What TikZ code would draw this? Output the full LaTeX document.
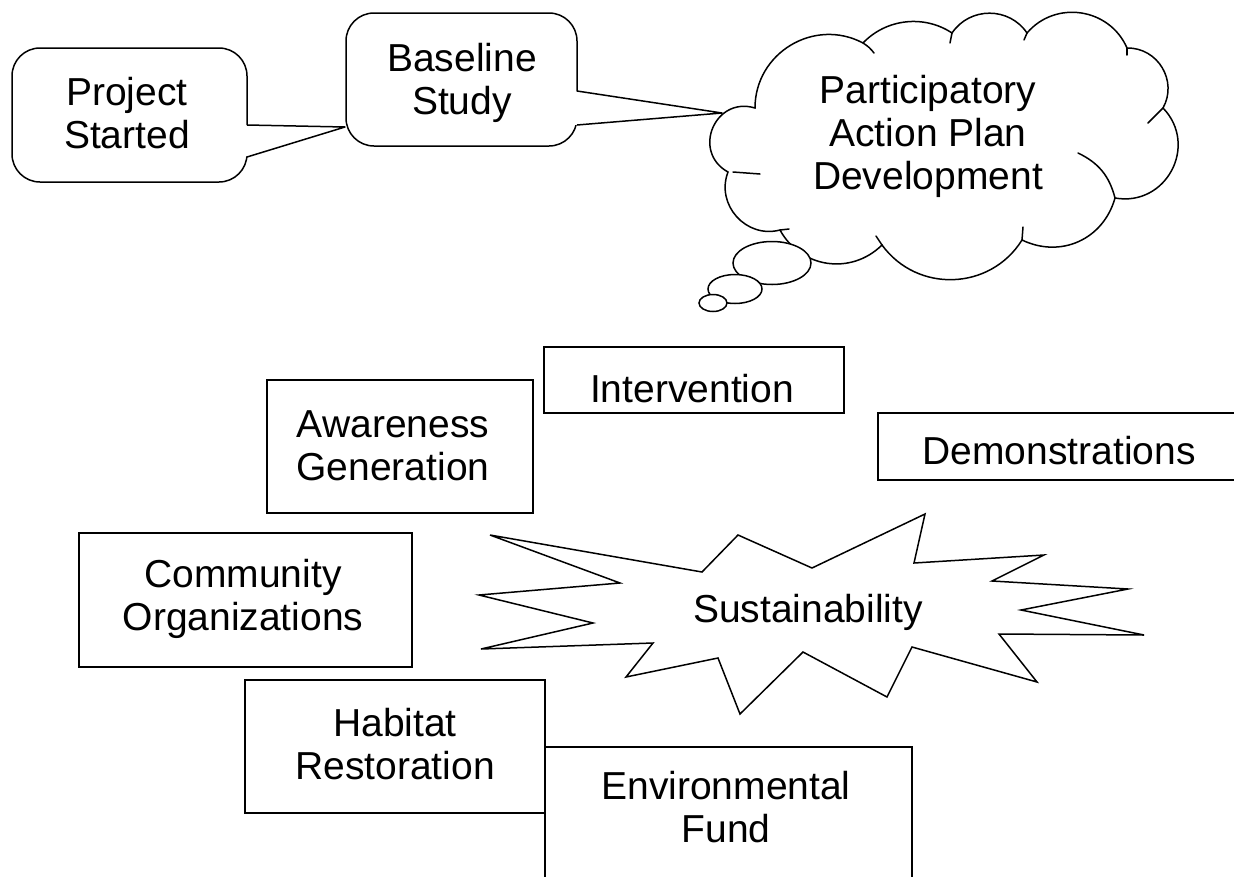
\documentclass[tikz,border=0pt]{standalone}
\usepackage{fontspec}
\setmainfont{Liberation Sans}
\begin{document}
\begin{tikzpicture}[x=1pt,y=1pt,line width=1.5pt,
  lbl/.style={font=\fontsize{39}{43}\selectfont, align=center, anchor=north, inner sep=0pt},
  box/.style={draw, fill=white, rectangle, inner sep=0pt},
  callout/.style={draw, fill=white, rectangle, rounded corners=28pt, inner sep=0pt},
  puff/.style={draw, fill=white},
  tail/.style={draw, line join=round},
  stub/.style={draw, line cap=round}]
\useasboundingbox (0,0) rectangle (1234,-876);

% ---------- Project Started callout
\node[callout, minimum width=235pt, minimum height=134pt] (ps) at (129.5,-115) {};
\coordinate (psTop) at (247,-125);
\coordinate (psBot) at (247,-157);
\coordinate (psTip) at (345,-127);
\fill[white] ([xshift=-3pt]psTop) -- (psTip) -- ([xshift=-3pt]psBot) -- cycle;
\draw[tail] (psTop) -- (psTip) -- (psBot);
\node[lbl] (pst) at (127,-76) {Project\\Started};

% ---------- Baseline Study callout
\node[callout, minimum width=231pt, minimum height=133pt] (bs) at (461.5,-79.5) {};
\coordinate (bsTop) at (577,-91);
\coordinate (bsBot) at (577,-125);
\coordinate (bsTip) at (722,-113);
\fill[white] ([xshift=-3pt]bsTop) -- (bsTip) -- ([xshift=-3pt]bsBot) -- cycle;
\draw[tail] (bsTop) -- (bsTip) -- (bsBot);
\node[lbl] (bst) at (462,-42) {Baseline\\Study};

% ---------- Thought cloud
\draw[puff] (755,-108)
  to[bend left=59, looseness=1.12] (863,-43)
  to[bend left=40, looseness=0.96] (952,-33)
  to[bend left=56, looseness=1.09] (1027,-33)
  to[bend left=58, looseness=1.11] (1127,-48)
  to[bend left=60, looseness=1.13] (1163,-108)
  to[bend left=72, looseness=1.30] (1115,-198)
  to[bend left=50, looseness=1.08] (1022,-240)
  to[bend left=56, looseness=1.09] (882,-245)
  to[bend left=53, looseness=1.08] (780,-230)
  to[bend left=63, looseness=1.15] (728,-172)
  to[bend left=84, looseness=1.54] (755,-108) -- cycle;
% inner strokes of the cloud
\draw[stub] (863,-43) to[bend left=10] (874,-53);
\draw[stub] (952,-33) -- (950,-43);
\draw[stub] (1027,-33) -- (1024,-40);
\draw[stub] (1127,-48) -- (1127,-55);
\draw[stub] (1163,-108) -- (1148,-123);
\draw[stub] (1115,-198) to[bend right=25] (1078,-153);
\draw[stub] (1022,-240) -- (1023,-227);
\draw[stub] (882,-245) -- (876,-236);
\draw[stub] (780,-230) -- (789,-229);
\draw[stub] (733,-172) -- (760,-174);
% thought bubbles
\draw[puff] (772,-263) ellipse [x radius=39, y radius=21.5];
\draw[puff] (735,-289) ellipse [x radius=27, y radius=14.5];
\draw[puff] (713,-303) ellipse [x radius=14, y radius=8.5];
\node[lbl] (pap) at (928,-74) {Participatory\\Action Plan\\Development};

% ---------- Starburst
\draw[puff] (490,-535) -- (702,-572) -- (738,-535) -- (812,-568) -- (925,-514)
  -- (914,-563) -- (1044,-555) -- (992,-581) -- (1128,-589) -- (1021,-610)
  -- (1144,-635) -- (999,-634) -- (1037,-682) -- (912,-647) -- (887,-697)
  -- (803,-652) -- (740,-714) -- (718,-658) -- (626,-677) -- (653,-643)
  -- (481,-649) -- (593,-623) -- (479,-595) -- (620,-583) -- cycle;
\node[lbl] (sus) at (808,-593) {Sustainability};

% ---------- Boxes
\node[box, minimum width=300pt, minimum height=66pt] (iv) at (694,-380) {};
\node[lbl] (ivt) at (692,-373) {Intervention};

\node[box, minimum width=266pt, minimum height=133pt] (ag) at (400,-446.5) {};
\node[lbl] (agt) at (393,-410) {Awareness\\Generation};

\node[box, minimum width=362pt, minimum height=67pt] (dm) at (1059,-446.5) {};
\node[lbl] (dmt) at (1059,-435) {Demonstrations};

\node[box, minimum width=333pt, minimum height=134pt] (co) at (245.5,-600) {};
\node[lbl] (cot) at (243,-558) {Community\\Organizations};

\node[box, minimum width=367pt, minimum height=134pt] (ef) at (728.5,-814) {};
\node[lbl] (eft) at (726,-770) {Environmental\\Fund};

\node[box, minimum width=300pt, minimum height=133pt] (hr) at (395,-746.5) {};
\node[lbl] (hrt) at (395,-707) {Habitat\\Restoration};

\end{tikzpicture}
\end{document}
